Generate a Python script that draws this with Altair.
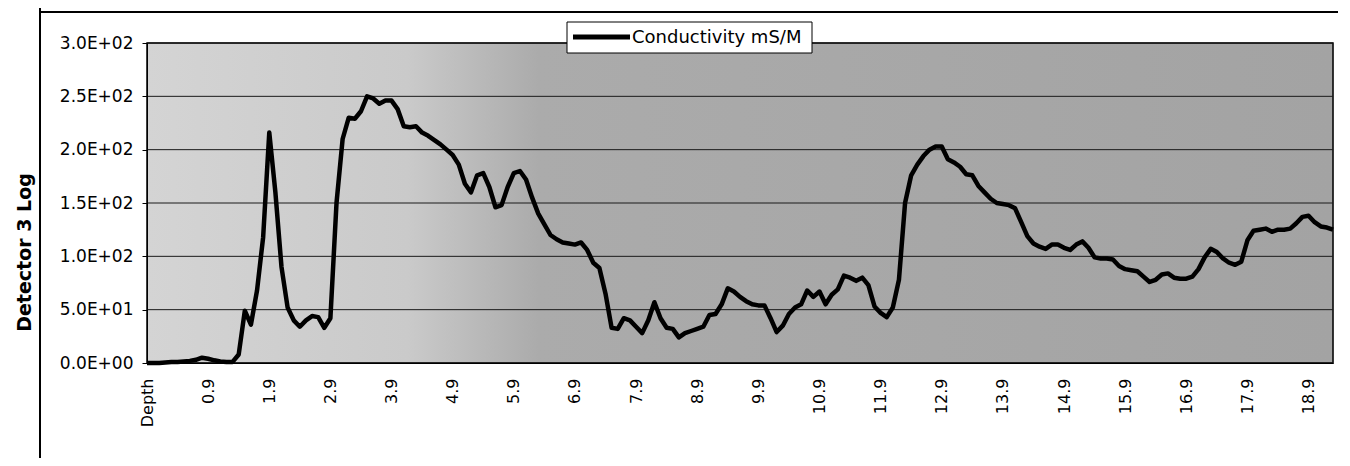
import altair as alt
import pandas as pd

# Category axis: first category is the header text "Depth", then depths 0.0 .. 19.3
depth_categories = ["Depth"] + [f"{i / 10:.1f}" for i in range(194)]
depth_tick_labels = ["Depth", "0.9", "1.9", "2.9", "3.9", "4.9", "5.9", "6.9", "7.9", "8.9",
                     "9.9", "10.9", "11.9", "12.9", "13.9", "14.9", "15.9", "16.9", "17.9", "18.9"]

conductivity = [
    0, 0, 0, 0.5, 1, 1, 1.5, 2, 3, 5,
    4, 2.5, 1.5, 1, 1, 8, 49, 36, 68, 118,
    216, 160, 90, 52, 40, 34, 40, 44, 43, 33,
    42, 150, 210, 230, 229, 236, 250, 248, 243, 246,
    246, 238, 222, 221, 222, 216, 213, 209, 205, 200,
    195, 186, 168, 160, 176, 178, 165, 146, 148, 165,
    178, 180, 172, 155, 140, 130, 120, 116, 113, 112,
    111, 113, 106, 94, 89, 65, 33, 32, 42, 40,
    34, 28, 40, 57, 42, 33, 32, 24, 28, 30,
    32, 34, 45, 46, 55, 70, 67, 62, 58, 55,
    54, 54, 42, 29, 35, 46, 52, 55, 68, 62,
    67, 55, 64, 69, 82, 80, 77, 80, 73, 53,
    47, 43, 52, 78, 150, 176, 186, 194, 200, 203,
    203, 191, 188, 184, 177, 176, 166, 160, 154, 150,
    149, 148, 145, 132, 119, 112, 109, 107, 111, 111,
    108, 106, 111, 114, 108, 99, 98, 98, 97, 91,
    88, 87, 86, 81, 76, 78, 83, 84, 80, 79,
    79, 81, 88, 99, 107, 104, 98, 94, 92, 95,
    115, 124, 125, 126, 123, 125, 125, 126, 131, 137,
    138, 132, 128, 127, 125,
]

series_name = "Conductivity mS/M"
y_tick_values = [0, 50, 100, 150, 200, 250, 300]
y_tick_labels = ["0.0E+00", "5.0E+01", "1.0E+02", "1.5E+02", "2.0E+02", "2.5E+02", "3.0E+02"]

df = pd.DataFrame({
    "depth": depth_categories,
    "value": conductivity,
    "series": [series_name] * len(conductivity),
})
grid_df = pd.DataFrame({"value": y_tick_values})
legend_df = pd.DataFrame({"label": [series_name]})

label_expr = ""
for v, lab in zip(y_tick_values, y_tick_labels):
    label_expr += f"datum.value == {v} ? '{lab}' : "
label_expr += "''"

W, H = 1186, 320
one = pd.DataFrame({"k": [0]})

# stippled grey plot area, lighter on the left as in the scan
bg = alt.Chart(one).mark_rect(
    fill=alt.LinearGradient(
        gradient="linear",
        stops=[
            alt.GradientStop(color="#d4d4d4", offset=0),
            alt.GradientStop(color="#cacaca", offset=0.22),
            alt.GradientStop(color="#ababab", offset=0.33),
            alt.GradientStop(color="#a3a3a3", offset=1),
        ],
        x1=0, x2=1, y1=0, y2=0,
    ),
    stroke="black",
    strokeWidth=1.5,
).encode(x=alt.value(0), x2=alt.value("width"), y=alt.value(0), y2=alt.value("height"))

y_scale = alt.Scale(domain=[0, 300], nice=False)

grid = alt.Chart(grid_df).mark_rule(color="#1a1a1a", strokeWidth=1).encode(
    y=alt.Y("value:Q", scale=y_scale),
    x=alt.value(0),
    x2=alt.value("width"),
)

line = alt.Chart(df).mark_line(strokeWidth=4.5, strokeJoin="round", color="black").encode(
    x=alt.X(
        "depth:N",
        sort=depth_categories,
        scale=alt.Scale(type="point", padding=0),
        axis=alt.Axis(
            values=depth_tick_labels,
            title=None,
            labelAngle=270,
            labelAlign="right",
            labelBaseline="middle",
            labelPadding=15,
            labelFont="DejaVu Sans",
            labelFontSize=16,
            labelColor="black",
            ticks=False,
            grid=False,
            domainColor="black",
            domainWidth=1,
            labelOverlap=False,
            zindex=1,
        ),
    ),
    y=alt.Y(
        "value:Q",
        scale=y_scale,
        axis=alt.Axis(
            values=y_tick_values,
            labelExpr=label_expr,
            title="Detector 3 Log",
            titleFont="DejaVu Sans",
            titleFontSize=19,
            titleFontWeight="bold",
            titleColor="black",
            titleAngle=270,
            titleBaseline="bottom",
            titleAlign="center",
            titleX=-113,
            titleY=209,
            labelFont="DejaVu Sans",
            labelFontSize=17,
            labelColor="black",
            labelPadding=9,
            tickSize=5,
            tickColor="black",
            domainColor="black",
            grid=False,
            zindex=1,
        ),
    ),
    detail="series:N",
)

# legend box (overlapping the top of the plot area, as in the original)
leg_box = alt.Chart(one).mark_rect(fill="white", stroke="black", strokeWidth=1).encode(
    x=alt.value(420), x2=alt.value(665), y=alt.value(-21), y2=alt.value(10))
leg_sym = alt.Chart(one).mark_rule(color="black", strokeWidth=5).encode(
    x=alt.value(426), x2=alt.value(483), y=alt.value(-6))
leg_text = alt.Chart(legend_df).mark_text(
    align="left", baseline="middle", font="DejaVu Sans", fontSize=18, color="black"
).encode(x=alt.value(485), y=alt.value(-5), text="label:N")

# page frame lines from the scanned report
frame_v = alt.Chart(one).mark_rule(color="black", strokeWidth=2).encode(
    x=alt.value(-107), y=alt.value(-43), y2=alt.value(423))
frame_top = alt.Chart(one).mark_rule(color="black", strokeWidth=2).encode(
    x=alt.value(-107), x2=alt.value(1203), y=alt.value(-31))
frame_bottom = alt.Chart(one).mark_rule(color="black", strokeWidth=1.5).encode(
    x=alt.value(708), x2=alt.value(1203), y=alt.value(416))

chart = alt.layer(
    bg, grid, line, leg_box, leg_sym, leg_text, frame_v, frame_top, frame_bottom
).properties(
    width=W,
    height=H,
    autosize=alt.AutoSizeParams(type="none"),
    padding={"left": 139, "top": 35, "right": 5, "bottom": 95},
).configure_view(stroke=None).configure(background="white")

chart.save("out.html", embed_options={"renderer": "svg", "actions": False})
